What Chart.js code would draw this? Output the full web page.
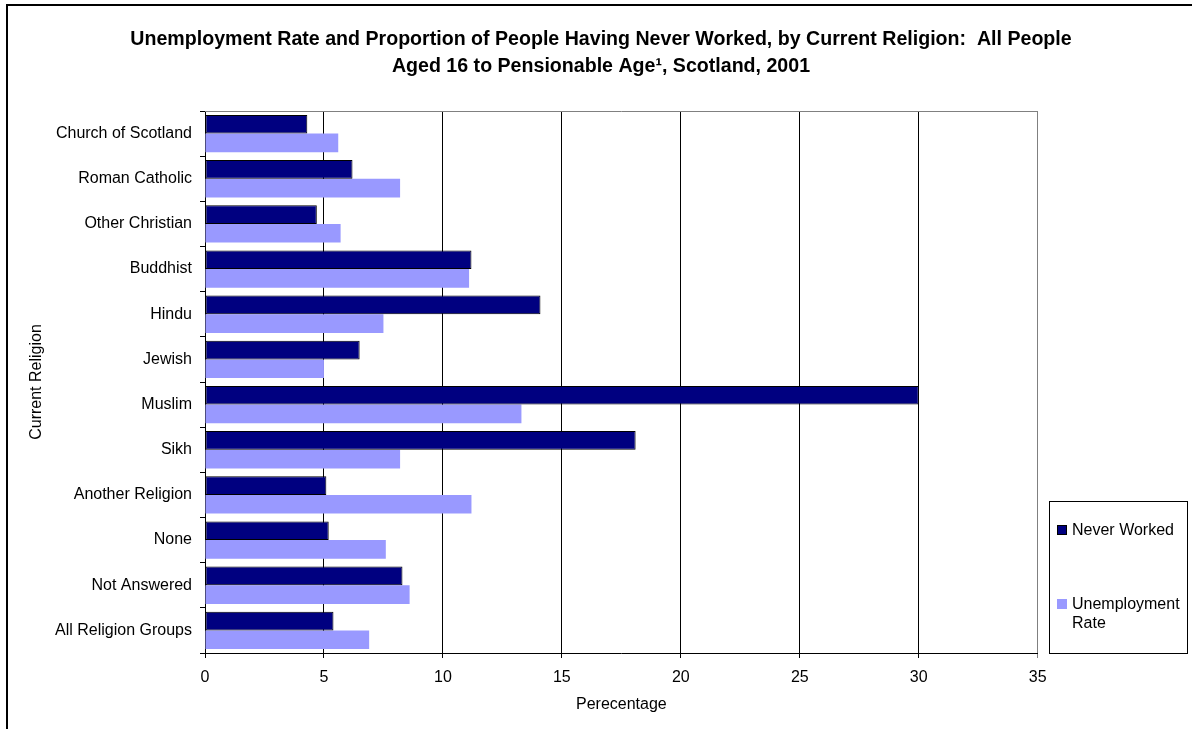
<!DOCTYPE html>
<html>
<head>
<meta charset="utf-8">
<script src="https://cdn.jsdelivr.net/npm/chart.js@4/dist/chart.umd.min.js"></script>
<style>
  html, body { margin: 0; padding: 0; background: #ffffff; }
  #wrap { width: 1192px; height: 729px; position: relative; }
</style>
</head>
<body>
<div id="wrap"><canvas id="c" width="1192" height="729"></canvas></div>
<script>
const categories = [
  "Church of Scotland", "Roman Catholic", "Other Christian", "Buddhist", "Hindu",
  "Jewish", "Muslim", "Sikh", "Another Religion", "None", "Not Answered", "All Religion Groups"
];
const neverWorked = [4.3, 6.2, 4.7, 11.2, 14.1, 6.5, 30.0, 18.1, 5.1, 5.2, 8.3, 5.4];
const unemploymentRate = [5.6, 8.2, 5.7, 11.1, 7.5, 5.0, 13.3, 8.2, 11.2, 7.6, 8.6, 6.9];
const seriesNames = ["Never Worked", "Unemployment Rate"];
const titleLines = [
  "Unemployment Rate and Proportion of People Having Never Worked, by Current Religion:  All People",
  "Aged 16 to Pensionable Age\u00B9, Scotland, 2001"
];
const xTitle = "Perecentage";
const yTitle = "Current Religion";
const xMin = 0, xMax = 35, xStep = 5;

const FONT = "'Liberation Sans', Arial, sans-serif";

const framePlugin = {
  id: 'frame',
  beforeDraw(chart) {
    const ctx = chart.ctx;
    ctx.save();
    ctx.fillStyle = '#ffffff';
    ctx.fillRect(0, 0, chart.width, chart.height);
    ctx.strokeStyle = '#000000';
    ctx.lineWidth = 2;
    ctx.strokeRect(7, 5, chart.width + 20, chart.height + 20);
    ctx.restore();
  },
  afterDatasetsDraw(chart) {
    const ctx = chart.ctx;
    const a = chart.chartArea;
    ctx.save();
    ctx.strokeStyle = '#808080';
    ctx.lineWidth = 1;
    ctx.beginPath();
    ctx.moveTo(a.left, a.top + 0.5);
    ctx.lineTo(a.right, a.top + 0.5);
    ctx.stroke();
    ctx.restore();
  }
};

const boxLegendPlugin = {
  id: 'boxLegend',
  afterDraw(chart) {
    const ctx = chart.ctx;
    const a = chart.chartArea;
    const left = Math.round(a.right) + 11.5;
    const right = chart.width - 4.5;
    const bottom = Math.round(a.bottom) + 0.5;
    const top = bottom - 152;
    ctx.save();
    ctx.strokeStyle = '#000000';
    ctx.lineWidth = 1;
    ctx.strokeRect(left, top, right - left, bottom - top);
    ctx.font = '16px ' + FONT;
    ctx.textBaseline = 'middle';
    ctx.textAlign = 'left';
    const textX = left + 22.5;
    const maxW = right - textX - 1;
    const itemY = [top + 29, top + 103];
    chart.data.datasets.forEach((ds, i) => {
      const y = itemY[i];
      ctx.fillStyle = ds.backgroundColor;
      ctx.fillRect(left + 7.5, y - 5.5, 10, 10);
      if (ds.borderWidth) {
        ctx.strokeStyle = ds.borderColor;
        ctx.strokeRect(left + 8, y - 5, 9, 9);
      }
      const words = ds.label.split(' ');
      const lines = [];
      let cur = '';
      words.forEach(w => {
        const t = cur ? cur + ' ' + w : w;
        if (ctx.measureText(t).width > maxW && cur) { lines.push(cur); cur = w; }
        else cur = t;
      });
      if (cur) lines.push(cur);
      ctx.fillStyle = '#000000';
      lines.forEach((ln, k) => ctx.fillText(ln, textX, y + k * 18.7));
    });
    ctx.restore();
  }
};

new Chart(document.getElementById('c'), {
  type: 'bar',
  data: {
    labels: categories,
    datasets: [
      {
        label: seriesNames[0],
        data: neverWorked,
        backgroundColor: '#000080',
        borderColor: '#000000',
        borderWidth: 1,
        borderSkipped: false
      },
      {
        label: seriesNames[1],
        data: unemploymentRate,
        backgroundColor: '#9999FF',
        borderWidth: 0
      }
    ]
  },
  options: {
    indexAxis: 'y',
    responsive: false,
    animation: false,
    devicePixelRatio: 1,
    datasets: { bar: { categoryPercentage: 0.825, barPercentage: 1.0 } },
    layout: { padding: { top: 0, left: 10, right: 0, bottom: 0 } },
    plugins: {
      legend: { display: false },
      tooltip: { enabled: false },
      title: {
        display: true,
        text: titleLines,
        color: '#000000',
        font: { family: FONT, size: 19.6, weight: 'bold', lineHeight: 27 / 19.6 },
        padding: { top: 26.5, bottom: 30.5 }
      }
    },
    scales: {
      x: {
        type: 'linear',
        min: xMin,
        max: xMax,
        afterFit(scale) { scale.height = 76; },
        ticks: {
          stepSize: xStep,
          color: '#000000',
          padding: 10,
          font: { family: FONT, size: 16 }
        },
        grid: {
          color: (c) => (c.tick && c.tick.value === xMax) ? '#808080' : '#000000',
          lineWidth: 1,
          tickLength: 5,
          drawTicks: true
        },
        border: { color: '#000000', width: 1 },
        title: {
          display: true,
          text: xTitle,
          color: '#000000',
          font: { family: FONT, size: 16 },
          padding: { top: 0, bottom: 14.4 }
        }
      },
      y: {
        type: 'category',
        afterFit(scale) { scale.width = 195; },
        ticks: {
          color: '#000000',
          padding: 8,
          font: { family: FONT, size: 16 }
        },
        grid: {
          offset: true,
          drawOnChartArea: false,
          drawTicks: true,
          tickLength: 5,
          color: '#000000'
        },
        border: { color: '#000000', width: 1 },
        title: {
          display: true,
          text: yTitle,
          color: '#000000',
          font: { family: FONT, size: 16 },
          padding: { top: 17.4, bottom: 0 }
        }
      },
      legendSpace: {
        type: 'linear',
        position: 'right',
        display: true,
        afterFit(scale) { scale.width = 154.3; },
        grid: { display: false, drawTicks: false },
        ticks: { display: false },
        border: { display: false }
      }
    }
  },
  plugins: [framePlugin, boxLegendPlugin]
});
</script>
</body>
</html>
